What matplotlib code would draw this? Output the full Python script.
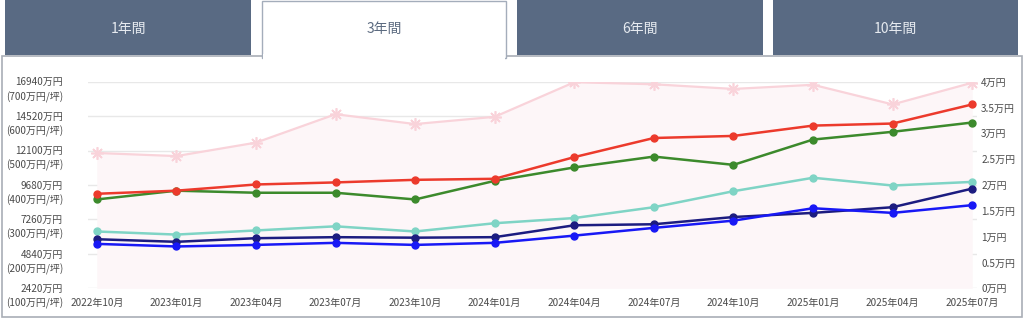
import matplotlib
matplotlib.use("Agg")
import matplotlib.pyplot as plt
from matplotlib.patches import Rectangle
from matplotlib.transforms import ScaledTranslation

plt.rcParams['font.family'] = ['Noto Sans CJK JP', 'DejaVu Sans']

tabs = ["1年間", "3年間", "6年間", "10年間"]
active_tab = 1

months = ["2022年10月", "2023年01月", "2023年04月", "2023年07月", "2023年10月", "2024年01月",
          "2024年04月", "2024年07月", "2024年10月", "2025年01月", "2025年04月", "2025年07月"]

# values in 万円 (right axis)
pink = [2.62, 2.56, 2.82, 3.37, 3.18, 3.32, 3.99, 3.95, 3.86, 3.94, 3.56, 3.98]
red = [1.83, 1.89, 2.01, 2.05, 2.10, 2.12, 2.54, 2.91, 2.95, 3.15, 3.19, 3.56]
green = [1.72, 1.89, 1.85, 1.85, 1.72, 2.08, 2.34, 2.55, 2.39, 2.88, 3.03, 3.21]
teal = [1.10, 1.04, 1.12, 1.20, 1.10, 1.26, 1.36, 1.57, 1.88, 2.14, 1.99, 2.06]
navy = [0.95, 0.90, 0.97, 0.99, 0.98, 0.99, 1.22, 1.24, 1.38, 1.46, 1.57, 1.93]
blue = [0.86, 0.81, 0.84, 0.88, 0.84, 0.88, 1.02, 1.17, 1.31, 1.55, 1.46, 1.61]

left_ticks = [2420, 4840, 7260, 9680, 12100, 14520, 16940]
left_sub = [100, 200, 300, 400, 500, 600, 700]
right_ticks = [0, 0.5, 1, 1.5, 2, 2.5, 3, 3.5, 4]

W, H = 1024, 324
fig = plt.figure(figsize=(W / 100, H / 100), dpi=100)

# background: tabs and panel, in pixel coords
bg = fig.add_axes([0, 0, 1, 1])
bg.set_xlim(0, W)
bg.set_ylim(H, 0)
bg.axis("off")
tab_x = [(5, 251), (262, 506), (517, 763), (773, 1018)]
bg.add_patch(Rectangle((2, 56), 1020, 261, facecolor="white", edgecolor="#a9aeb6", lw=1.2))
for i, (name, (x0, x1)) in enumerate(zip(tabs, tab_x)):
    if i == active_tab:
        bg.add_patch(Rectangle((x0, 0.5), x1 - x0, 57, facecolor="white",
                               edgecolor="#a4adbb", lw=1, zorder=3))
        bg.add_patch(Rectangle((x0 + 0.8, 54), x1 - x0 - 1.6, 6, facecolor="white",
                               edgecolor="none", zorder=4))
        col = "#5c6b80"
    else:
        bg.add_patch(Rectangle((x0, 0), x1 - x0, 55, facecolor="#596a83",
                               edgecolor="none", zorder=3))
        col = "#e6eaf0"
    bg.text((x0 + x1) / 2, 29, name, ha="center", va="center", fontsize=10,
            color=col, zorder=5)

# chart
ax = fig.add_axes([88 / W, 35.7 / H, 889 / W, 206.6 / H])
ax.patch.set_alpha(0)
ax.set_ylim(left_ticks[0], left_ticks[-1])
ax.grid(axis="y", color="#e8e8e8", lw=1)
ax.tick_params(axis="y", length=0, pad=18, labelsize=7.2, labelcolor="#4a4a4a")
ax.set_yticks(left_ticks)
ax.set_yticklabels([f"{v}万円\n({s}万円/坪)" for v, s in zip(left_ticks, left_sub)],
                   linespacing=1.45, va="top")
# first line of each label sits on its grid line
for lab in ax.get_yticklabels():
    lab.set_transform(lab.get_transform() + ScaledTranslation(0, 3.2 / 72, fig.dpi_scale_trans))

ax2 = ax.twinx()
x = list(range(len(months)))
ax2.fill_between(x, pink, 0, color="#fdf6f8", lw=0, zorder=1)
ax2.plot(x, pink, color="#f9d3da", lw=1.6, marker=(8, 2, 0), ms=9, mew=1.2, zorder=2)
series = [(green, "#3c8a2c"), (red, "#ec3a2c"), (teal, "#7fd4c5"), (navy, "#1c1c80"), (blue, "#1818f5")]
for ys, c in series:
    ax2.plot(x, ys, color=c, lw=1.8, marker="o", ms=5, zorder=3)
ax2.set_ylim(0, 4)
ax2.set_yticks(right_ticks)
ax2.set_yticklabels([f"{v:g}万円" for v in right_ticks])
ax2.tick_params(axis="y", length=0, pad=3, labelsize=7.2, labelcolor="#4a4a4a")

ax.set_xlim(-0.11, 11.06)
ax.set_xticks(x)
ax.set_xticklabels(months)
ax.tick_params(axis="x", length=0, pad=7, labelsize=7.2, labelcolor="#4a4a4a")
for a in (ax, ax2):
    for s in a.spines.values():
        s.set_visible(False)

fig.savefig("out.png", dpi=100)
